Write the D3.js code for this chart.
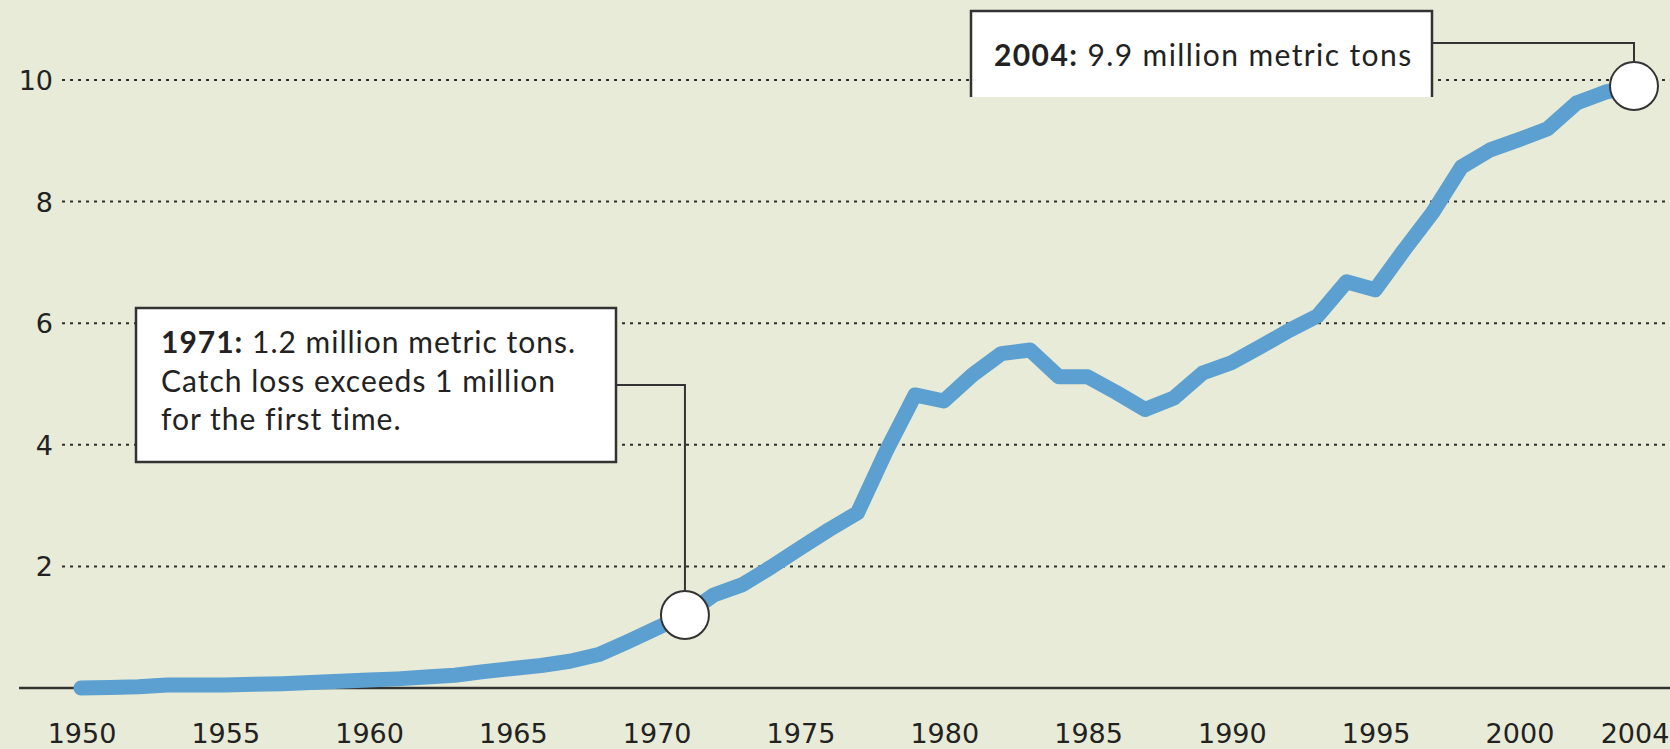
<!DOCTYPE html>
<html>
<head>
<meta charset="utf-8">
<script src="https://cdn.jsdelivr.net/npm/d3@7"></script>
<style>
  html, body { margin: 0; padding: 0; background: #e8ebd7; }
  svg { display: block; }
  text { font-family: Lato, "Noto Sans", sans-serif; fill: #222; }
  .tick-label { font-family: "DejaVu Sans", sans-serif; }
</style>
</head>
<body>
<div id="chart"></div>
<script>
// chart data (million metric tons)
const years = d3.range(1950, 2005);
const catchLoss = [
  0.0, 0.01, 0.02, 0.05, 0.05, 0.05, 0.06, 0.07, 0.09, 0.11,
  0.13, 0.15, 0.18, 0.21, 0.27, 0.32, 0.37, 0.44, 0.55, 0.76,
  0.98, 1.2, 1.53, 1.7, 1.99, 2.3, 2.6, 2.88, 3.9, 4.82,
  4.72, 5.15, 5.5, 5.56, 5.12, 5.12, 4.86, 4.58, 4.77, 5.18,
  5.35, 5.61, 5.88, 6.12, 6.68, 6.55, 7.2, 7.82, 8.57, 8.85,
  9.02, 9.2, 9.62, 9.8, 9.9
];
const xTicks = [1950, 1955, 1960, 1965, 1970, 1975, 1980, 1985, 1990, 1995, 2000, 2004];
const yTicks = [2, 4, 6, 8, 10];
const noteYears = [1971, 2004];
const noteBold = ["1971:", "2004:"];
const noteLines = [
  [" 1.2 million metric tons.", "Catch loss exceeds 1 million", "for the first time."],
  [" 9.9 million metric tons"]
];

const WIDTH = 1670;
const HEIGHT = 749;

const svg = d3.select('#chart')
  .append('svg')
  .attr('width', WIDTH)
  .attr('height', HEIGHT);

svg.append('rect')
  .attr('width', WIDTH)
  .attr('height', HEIGHT)
  .attr('fill', '#e8ebd7');

const x = d3.scaleLinear().domain([1950, 2004]).range([81, 1634]);
const y = d3.scaleLinear().domain([0, 10]).range([688, 80]);

// dotted gridlines
svg.append('g')
  .selectAll('line')
  .data(yTicks)
  .enter()
  .append('line')
  .attr('x1', 62)
  .attr('x2', WIDTH)
  .attr('y1', d => y(d))
  .attr('y2', d => y(d))
  .attr('stroke', '#2e2e2e')
  .attr('stroke-width', 2)
  .attr('stroke-dasharray', '3,5');

// y labels
svg.append('g')
  .selectAll('text')
  .data(yTicks)
  .enter()
  .append('text')
  .attr('class', 'tick-label')
  .attr('x', 53)
  .attr('y', d => y(d) + 10)
  .attr('text-anchor', 'end')
  .attr('font-size', 27)
  .text(d => d);

// baseline
svg.append('line')
  .attr('x1', 19)
  .attr('x2', WIDTH)
  .attr('y1', y(0))
  .attr('y2', y(0))
  .attr('stroke', '#333')
  .attr('stroke-width', 2.5);

// x labels
svg.append('g')
  .selectAll('text')
  .data(xTicks)
  .enter()
  .append('text')
  .attr('class', 'tick-label')
  .attr('x', d => x(d) + 1)
  .attr('y', 743)
  .attr('text-anchor', 'middle')
  .attr('font-size', 27)
  .text(d => d);

// the line
const lineGenerator = d3.line()
  .x((d, i) => x(years[i]))
  .y(d => y(d));

svg.append('path')
  .datum(catchLoss)
  .attr('d', lineGenerator)
  .attr('fill', 'none')
  .attr('stroke', '#5ba0d0')
  .attr('stroke-width', 15)
  .attr('stroke-linejoin', 'round')
  .attr('stroke-linecap', 'round');

const R = 24;
const val = yr => catchLoss[years.indexOf(yr)];

// 1971 note
const p1 = { x: x(noteYears[0]), y: y(val(noteYears[0])) };
svg.append('path')
  .attr('d', `M616,385 H${p1.x} V${p1.y - R}`)
  .attr('fill', 'none')
  .attr('stroke', '#333')
  .attr('stroke-width', 2);
svg.append('rect')
  .attr('x', 136).attr('y', 308)
  .attr('width', 480).attr('height', 154)
  .attr('fill', '#fff')
  .attr('stroke', '#333')
  .attr('stroke-width', 2.5);
noteLines[0].forEach((line, i) => {
  const t = svg.append('text')
    .attr('x', 161)
    .attr('y', 353 + i * 38.5)
    .attr('font-size', 30)
    .attr('letter-spacing', 1.0);
  if (i === 0) t.append('tspan').attr('font-weight', 'bold').text(noteBold[0]);
  t.append('tspan').text(line);
});

// 2004 note
const p2 = { x: x(noteYears[1]), y: y(val(noteYears[1])) };
svg.append('path')
  .attr('d', `M1432,43 H${p2.x} V${p2.y - R}`)
  .attr('fill', 'none')
  .attr('stroke', '#333')
  .attr('stroke-width', 2);
svg.append('rect')
  .attr('x', 971).attr('y', 11)
  .attr('width', 461).attr('height', 86)
  .attr('fill', '#fff');
svg.append('path')
  .attr('d', 'M971,97 V11 H1432 V97')
  .attr('fill', 'none')
  .attr('stroke', '#333')
  .attr('stroke-width', 2.5);
const t2 = svg.append('text')
  .attr('x', 994)
  .attr('y', 66)
  .attr('font-size', 30)
  .attr('letter-spacing', 1.4);
t2.append('tspan').attr('font-weight', 'bold').text(noteBold[1]);
t2.append('tspan').text(noteLines[1][0]);

// highlight circles
svg.append('g')
  .selectAll('circle')
  .data(noteYears)
  .enter()
  .append('circle')
  .attr('cx', d => x(d))
  .attr('cy', d => y(val(d)))
  .attr('r', R)
  .attr('fill', '#fff')
  .attr('stroke', '#333')
  .attr('stroke-width', 2);
</script>
</body>
</html>
